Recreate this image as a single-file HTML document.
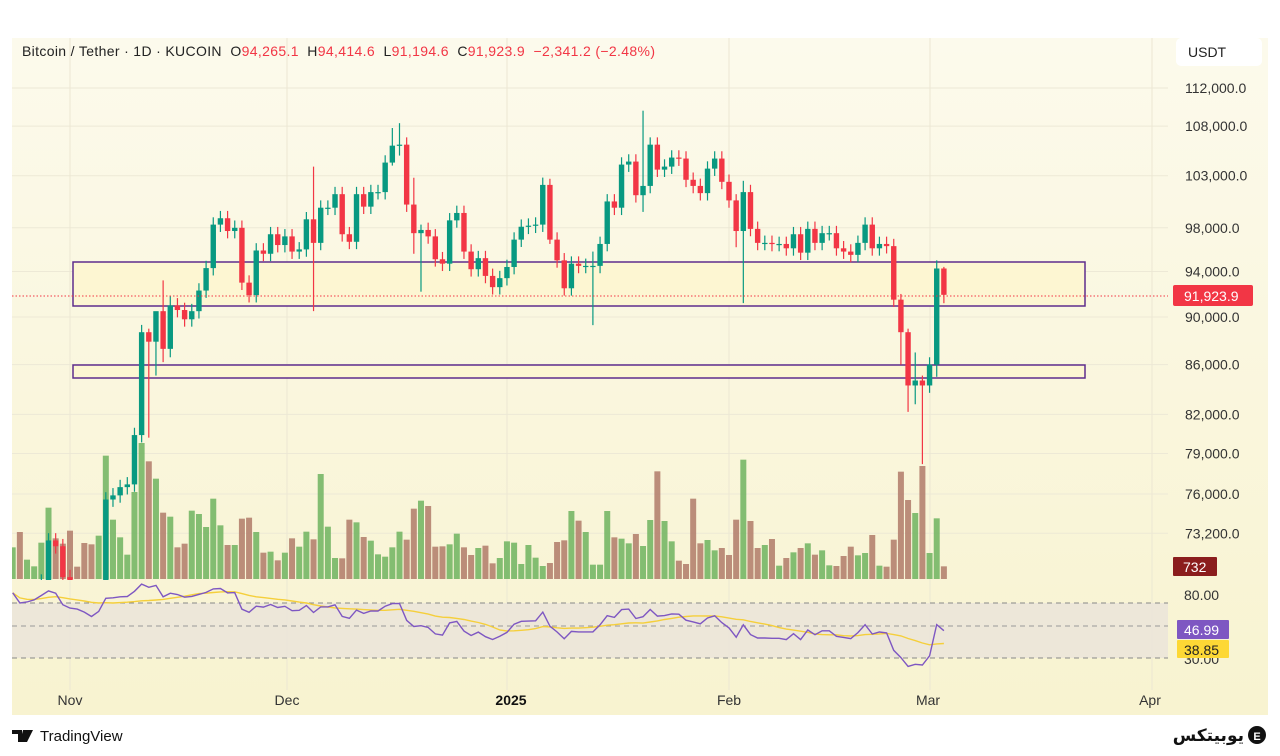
<!DOCTYPE html>
<html><head><meta charset="utf-8">
<style>
body{margin:0;background:#fff;width:1280px;height:756px;overflow:hidden;font-family:"Liberation Sans",sans-serif}
svg{display:block}
.pre{white-space:pre}
</style></head><body>
<svg id="s" width="1280" height="756" xmlns="http://www.w3.org/2000/svg" font-family="Liberation Sans, sans-serif">
<defs>
<linearGradient id="bg" x1="0" y1="0" x2="0" y2="1"><stop offset="0" stop-color="#fcfaec"/><stop offset="1" stop-color="#f8f3d0"/></linearGradient>
<clipPath id="cm"><rect x="12" y="38" width="1156" height="542"/></clipPath>
<clipPath id="cr"><rect x="12" y="583" width="1156" height="100"/></clipPath>
</defs>
<rect x="12" y="38" width="1256" height="677" fill="url(#bg)"/>
<g id="grid"></g>
<rect x="73" y="262" width="1012" height="44" fill="#fdf6d2" stroke="#5e2d8c" stroke-width="1.5"/>
<rect x="73" y="365" width="1012" height="13" fill="#fdf6d2" stroke="#5e2d8c" stroke-width="1.5"/>
<g id="vol" clip-path="url(#cm)"></g>
<g id="cnd" clip-path="url(#cm)"></g>
<line x1="12" y1="296" x2="1168" y2="296" stroke="#f23645" stroke-width="1" stroke-dasharray="1.5,2"/>
<rect x="12" y="603" width="1156" height="55" fill="#ebe5d9" opacity="0.9"/>
<line x1="12" y1="603" x2="1168" y2="603" stroke="#888" stroke-dasharray="5,4"/>
<line x1="12" y1="626" x2="1168" y2="626" stroke="#999" stroke-dasharray="5,4"/>
<line x1="12" y1="658" x2="1168" y2="658" stroke="#888" stroke-dasharray="5,4"/>
<g id="rsi" clip-path="url(#cr)"></g>
<text class="pre" x="22" y="56" font-size="14" fill="#222" textLength="633" lengthAdjust="spacing">Bitcoin / Tether · 1D · KUCOIN  O<tspan fill="#f23645">94,265.1</tspan>  H<tspan fill="#f23645">94,414.6</tspan>  L<tspan fill="#f23645">91,194.6</tspan>  C<tspan fill="#f23645">91,923.9</tspan>  <tspan fill="#f23645">−2,341.2 (−2.48%)</tspan></text>
<rect x="1176" y="38" width="86" height="28" rx="5" fill="#fff"/>
<text x="1188" y="57" font-size="14" fill="#222">USDT</text>
<g id="axis" font-size="14" fill="#333"></g>
<rect x="1173" y="285" width="80" height="21" rx="2" fill="#f23645"/>
<text x="1184" y="301" font-size="14" fill="#fff">91,923.9</text>
<rect x="1173" y="557" width="44" height="19" rx="1" fill="#8b1d1d"/>
<text x="1183" y="572" font-size="14" fill="#fff">732</text>
<text x="1184" y="600" font-size="14" fill="#333">80.00</text>
<text x="1184" y="664" font-size="14" fill="#333">30.00</text>
<rect x="1177" y="620" width="52" height="19" rx="1" fill="#7e57c2"/>
<text x="1184" y="635" font-size="14" fill="#fff">46.99</text>
<rect x="1177" y="640" width="52" height="18" rx="1" fill="#fdd835"/>
<text x="1184" y="655" font-size="14" fill="#222">38.85</text>
<g font-size="14" fill="#333" text-anchor="middle">
<text x="70" y="705">Nov</text><text x="287" y="705">Dec</text><text x="511" y="705" font-weight="bold" fill="#111">2025</text><text x="729" y="705">Feb</text><text x="928" y="705">Mar</text><text x="1150" y="705">Apr</text>
</g>
<g transform="translate(12,728)"><path d="M0 2h10v12h-4v-8h-6z M11 2h4l-3 12h-4z M15 2h6l-6 12h-3z" fill="#111"/></g>
<text x="40" y="741" font-size="15" fill="#111">TradingView</text>
<text x="1244" y="741" font-size="17" fill="#111" text-anchor="end" font-family="DejaVu Sans, sans-serif" font-weight="bold">یوبیتکس</text>
<circle cx="1257" cy="735" r="9" fill="#111"/>
<text x="1257" y="740" font-size="11" fill="#fff" text-anchor="middle" font-weight="bold">E</text>
</svg>
<script>
const NS="http://www.w3.org/2000/svg";
function el(p,t,a){const e=document.createElementNS(NS,t);for(const k in a)e.setAttribute(k,a[k]);p.appendChild(e);return e;}
const Y=p=>88+Math.log(112000/p)*1047;
const X=i=>70+i*7.163;
const closes=[60.3,62.4,63.2,62.8,66.0,67.0,67.6,67.4,68.4,68.4,69.0,67.4,67.4,66.7,68.2,66.6,67.0,67.9,69.9,72.7,72.3,70.2,
69.5,69.3,68.7,67.8,69.4,75.6,75.9,76.5,76.7,80.4,88.7,87.9,90.5,87.3,91.0,90.6,89.8,90.5,92.3,94.3,98.3,98.9,97.7,98.0,93.0,91.9,95.9,95.6,97.4,96.4,
97.2,95.8,96.0,98.8,96.6,99.9,99.9,101.2,97.4,96.7,101.2,100.0,101.4,101.4,104.3,106.0,106.1,100.2,97.5,97.8,97.2,95.1,94.7,98.7,99.4,95.8,94.2,95.2,93.6,92.6,93.4,
94.4,96.9,98.1,98.2,98.3,102.1,96.9,95.0,92.5,94.7,94.5,94.5,94.5,96.5,100.5,99.9,104.1,104.4,101.1,102.0,106.1,103.6,103.9,104.8,104.7,102.6,102.0,101.3,103.7,104.7,102.4,
100.6,97.7,101.4,97.9,96.6,96.6,96.5,96.5,96.1,97.4,95.7,97.9,96.6,97.5,97.5,96.1,95.8,95.5,96.6,98.3,96.1,96.5,96.3,91.5,88.7,84.3,84.7,84.3,
86.0,94.265,91.924].map(v=>v*1000);
const N=closes.length, off=22;
const ov={11:[89.0,80.2],12:[89.9,85.1],13:[93.2,86.2],14:[91.8,86.6],34:[103.9,90.5],45:[107.8,104],46:[108.3,105],48:[102.8,95.6],49:[98.3,92.2],67:[102.7,96.5],73:[95.8,89.3],80:[109.6,99.5],93:[101.2,96.2],94:[102.5,91.2],116:[92.0,86.0],117:[89.0,82.2],118:[87.0,82.8],119:[85.1,78.2],121:[95.0,85.0],122:[94.41,91.19]};
const vt=[323,277,360,380,309,204,296,312,273,381,310,314,288,48,240,293,345,157,10,65,117,219,231,323,312,213,223,262,177,257,316,316,237,234,277,339,336,362,339,296,321,276,299,103,261,355,356,240,248,292,303,344,351,323,276,300,207,183,199,321,320,314,282,323,346,325,318,371,355,305,309,373,316,354,379,370,307,302,214,243,277,375,375,214,293,297,311,283,319,241,95,244,305,363,373,177,311,301,332,325,346,240,60,244,325,316,298,378,355,338,325,311,345,332,377,379,349,321,347,340,286,378,381,300,96,181,220,79,340,236,380];
const vg=document.getElementById('vol'), cg=document.getElementById('cnd');
for(let i=1;i<N;i++){
 const d=i-off; if(d<-8)continue;
 const o=(d==122)?94265:closes[i-1], c=closes[i];
 let h=Math.max(o,c)*1.007,l=Math.min(o,c)*0.993;
 if(ov[d]){h=ov[d][0]*1000;l=ov[d][1]*1000;}
 const up=c>=o,x=X(d);
 const vi=d+8; if(vi<vt.length){const hh=(418-vt[vi])/3;el(vg,'rect',{x:x-3,y:579-hh,width:6,height:hh,fill:up?'#6fb35f':'#b07a68',opacity:0.85});}
 const col=up?'#089981':'#f23645';
 el(cg,'line',{x1:x,x2:x,y1:Y(h),y2:Y(l),stroke:col,'stroke-width':1.2});
 const t=Y(Math.max(o,c)),b=Y(Math.min(o,c));
 el(cg,'rect',{x:x-2.7,y:t,width:5.4,height:Math.max(1.2,b-t),fill:col});
}
const gg=document.getElementById('grid'),ag=document.getElementById('axis');
[112000,108000,103000,98000,94000,90000,86000,82000,79000,76000,73200].forEach(p=>{
 const y=Y(p);el(gg,'line',{x1:12,x2:1168,y1:y,y2:y,stroke:'#ede9d6','stroke-width':1});
 const t=el(ag,'text',{x:1185,y:y+5});t.textContent=p.toLocaleString('en-US')+'.0';});
[70,287,507,729,930,1152].forEach(x=>el(gg,'line',{x1:x,x2:x,y1:38,y2:690,stroke:'#ece7d3','stroke-width':1}));
let ag2=0,al=0,r=[];
for(let i=1;i<N;i++){const ch=closes[i]-closes[i-1],g=Math.max(ch,0),ls=Math.max(-ch,0);
 if(i<=14){ag2+=g/14;al+=ls/14;}else{ag2=(ag2*13+g)/14;al=(al*13+ls)/14;}
 r[i]=i>=14?100-100/(1+ag2/al):null;}
const RY=v=>v>=50?626-(v-50)*1.15:626+(50-v)*1.6;
let pl=[],ml=[];
for(let i=1;i<N;i++){const d=i-off;if(d<-9||r[i]==null)continue;pl.push(X(d).toFixed(1)+','+RY(r[i]).toFixed(1));
 let s=0,n=0;for(let k=i-13;k<=i;k++)if(r[k]!=null){s+=r[k];n++;}ml.push(X(d).toFixed(1)+','+RY(s/n).toFixed(1));}
const rg=document.getElementById('rsi');
el(rg,'polyline',{points:ml.join(' '),fill:'none',stroke:'#f5cf3b','stroke-width':1.4});
el(rg,'polyline',{points:pl.join(' '),fill:'none',stroke:'#7e57c2','stroke-width':1.4});
</script>
</body></html>
